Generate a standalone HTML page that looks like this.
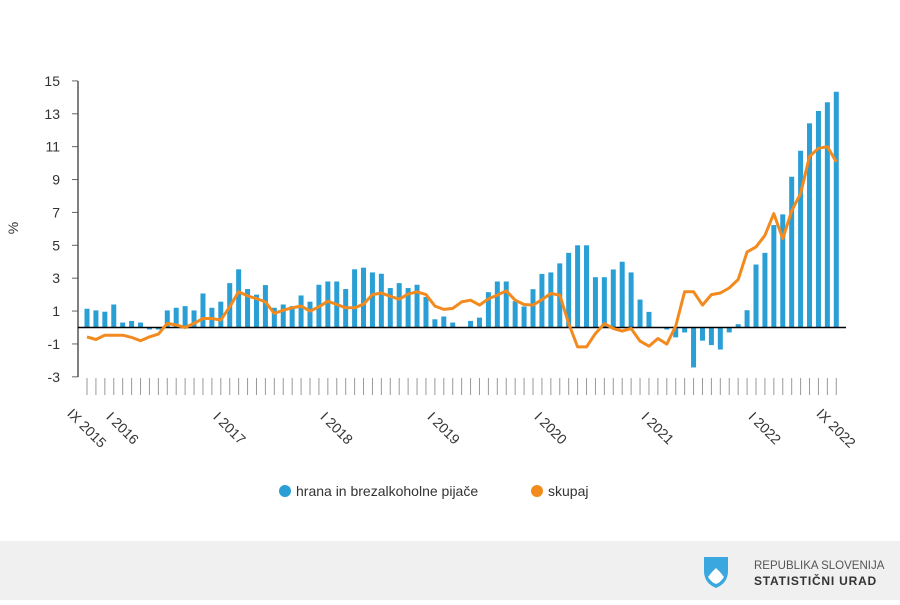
<!DOCTYPE html>
<html><head><meta charset="utf-8"><style>
body{margin:0;width:900px;height:600px;background:#fff;overflow:hidden;font-family:"Liberation Sans",sans-serif}
</style></head><body>
<svg id="c" width="900" height="600" xmlns="http://www.w3.org/2000/svg" font-family="Liberation Sans, sans-serif">
<rect x="0" y="541" width="900" height="59" fill="#f0f0f0"/>
<g id="g"></g>
<text x="18" y="228" font-size="14" fill="#333" transform="rotate(-90 18 228)" text-anchor="middle">%</text>
<circle cx="285" cy="491" r="6" fill="#2a9fd6"/>
<text x="296" y="496" font-size="14" fill="#333">hrana in brezalkoholne pijače</text>
<circle cx="537" cy="491" r="6" fill="#f28a1e"/>
<text x="548" y="496" font-size="14" fill="#333">skupaj</text>
<path d="M704 557 h24 v14 q0 12 -12 17 q-12 -5 -12 -17z" fill="#3aa7df"/>
<path d="M708 577 l4 -5 l4 -4 l4 4 l4 5 q-4 6 -8 7 q-4 -1 -8 -7z" fill="#fff"/>
<text x="754" y="569" font-size="11.5" fill="#555">REPUBLIKA SLOVENIJA</text>
<text x="754" y="585" font-size="12" font-weight="bold" fill="#333" letter-spacing="0.8">STATISTIČNI URAD</text>
</svg>
<script>
var bars=[1.14,1.04,0.96,1.4,0.3,0.4,0.3,-0.12,-0.12,1.04,1.2,1.3,1.04,2.07,1.2,1.57,2.7,3.54,2.34,2.0,2.58,1.2,1.4,1.3,1.95,1.57,2.6,2.8,2.8,2.34,3.54,3.64,3.35,3.27,2.4,2.7,2.4,2.6,1.86,0.5,0.67,0.3,0,0.4,0.6,2.15,2.8,2.8,1.6,1.28,2.33,3.26,3.35,3.9,4.54,5.0,5.0,3.06,3.06,3.53,4.0,3.35,1.7,0.95,0,-0.12,-0.6,-0.3,-2.43,-0.8,-1.07,-1.34,-0.3,0.2,1.05,3.83,4.54,6.23,6.88,9.17,10.75,12.42,13.17,13.7,14.34];
var line=[-0.57,-0.73,-0.47,-0.47,-0.47,-0.6,-0.8,-0.57,-0.4,0.25,0.15,0,0.25,0.55,0.55,0.45,1.26,2.17,1.92,1.76,1.56,0.85,1.05,1.2,1.3,1.0,1.26,1.6,1.4,1.2,1.2,1.42,2.0,2.1,1.9,1.72,2.03,2.17,2.0,1.3,1.1,1.16,1.56,1.66,1.36,1.74,1.97,2.23,1.66,1.4,1.36,1.7,2.07,1.97,0.24,-1.18,-1.18,-0.37,0.24,-0.06,-0.22,-0.06,-0.83,-1.14,-0.67,-1.01,0.08,2.17,2.17,1.36,2.0,2.1,2.4,2.92,4.6,4.9,5.6,6.93,5.4,7.1,8.15,10.4,10.9,11.0,10.07];
var Y=function(v){return 327.5-v*16.44};var X=function(i){return 87+i*8.92};
var s='';
for(var v=-3;v<=15;v+=2){var y=Y(v);s+='<line x1="72" y1="'+y+'" x2="78" y2="'+y+'" stroke="#666"/>';s+='<text x="60" y="'+(y+5)+'" font-size="14" fill="#333" text-anchor="end">'+v+'</text>';}
s+='<line x1="78" y1="81" x2="78" y2="377" stroke="#555" stroke-width="1.5"/>';
for(var i=0;i<bars.length;i++){var b=bars[i],y0=Y(0),y1=Y(b);s+='<rect x="'+(X(i)-2.5)+'" y="'+Math.min(y0,y1)+'" width="5" height="'+Math.abs(y1-y0)+'" fill="#2a9fd6"/>';s+='<line x1="'+X(i)+'" y1="378" x2="'+X(i)+'" y2="395" stroke="#999" stroke-width="1"/>';}
s+='<line x1="78" y1="'+Y(0)+'" x2="846" y2="'+Y(0)+'" stroke="#000" stroke-width="1.5"/>';
var p='';for(var i=0;i<line.length;i++)p+=(i?'L':'M')+X(i).toFixed(1)+' '+Y(line[i]).toFixed(1);
s+='<path d="'+p+'" fill="none" stroke="#f28a1e" stroke-width="3" stroke-linejoin="round"/>';
var labs=[[0,'IX 2015'],[4,'I 2016'],[16,'I 2017'],[28,'I 2018'],[40,'I 2019'],[52,'I 2020'],[64,'I 2021'],[76,'I 2022'],[84,'IX 2022']];
labs.forEach(function(l){var x=X(l[0]);s+='<text x="'+x+'" y="433" font-size="14" fill="#333" text-anchor="middle" transform="rotate(45 '+x+' 428)">'+l[1]+'</text>';});
document.getElementById('g').innerHTML=s;
</script>
</body></html>
